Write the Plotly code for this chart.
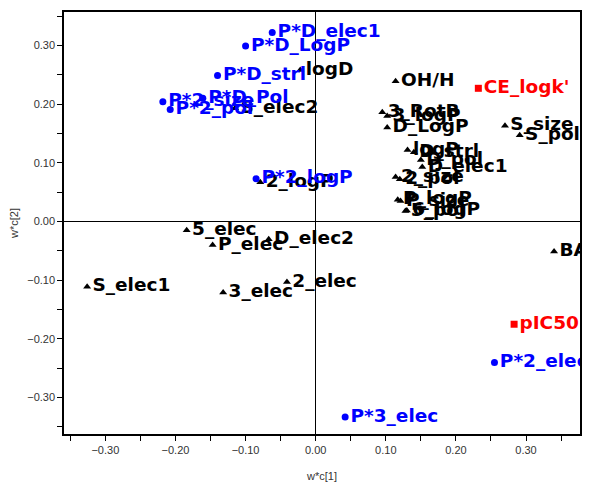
import plotly.graph_objects as go

# Blue (circles)
blue_names = ["P*D_elec1", "P*D_LogP", "P*D_strl", "P*D_Pol", "P*2_size", "P*2_pol",
              "P*2_logP", "P*2_elec", "P*3_elec"]
blue_x = [-0.062, -0.100, -0.140, -0.161, -0.218, -0.2075, -0.085, 0.255, 0.042]
blue_y = [0.322, 0.299, 0.249, 0.210, 0.204, 0.191, 0.073, -0.240, -0.333]

# Red (squares)
red_names = ["CE_logk'", "pIC50"]
red_x = [0.232, 0.283]
red_y = [0.227, -0.175]

# Black (triangles)
black_names = ["logD", "S_elec2", "OH/H", "3_RotB", "3_logP", "D_LogP", "S_size", "S_pol",
               "logP", "D_strl", "D_pol", "D_elec1", "2_size", "2_pol", "P_logP", "P_size",
               "5_pol", "6_logP", "BA", "5_elec", "P_elec", "D_elec2", "S_elec1", "3_elec",
               "2_elec", "2_logP"]
black_x = [-0.022, -0.115, 0.114, 0.095, 0.102, 0.102, 0.270, 0.291,
           0.131, 0.140, 0.150, 0.152, 0.114, 0.120, 0.117, 0.121,
           0.128, 0.130, 0.340, -0.184, -0.147, -0.067, -0.326, -0.132,
           -0.041, -0.079]
black_y = [0.258, 0.193, 0.239, 0.186, 0.180, 0.160, 0.163, 0.147,
           0.122, 0.118, 0.105, 0.093, 0.076, 0.072, 0.037, 0.035,
           0.018, 0.019, -0.051, -0.015, -0.040, -0.030, -0.111, -0.121,
           -0.103, 0.067]

x_ticks = [-0.30, -0.20, -0.10, 0.00, 0.10, 0.20, 0.30]
y_ticks = [-0.30, -0.20, -0.10, 0.00, 0.10, 0.20, 0.30]

lab_font = dict(family="DejaVu Sans", size=18.5, weight="bold")

fig = go.Figure()
fig.add_trace(go.Scatter(x=black_x, y=black_y, text=black_names, mode="markers+text",
                         textposition="middle right",
                         marker=dict(symbol="triangle-up", size=7, color="black"),
                         textfont=dict(color="black", **lab_font)))
fig.add_trace(go.Scatter(x=blue_x, y=blue_y, text=blue_names, mode="markers+text",
                         textposition="middle right",
                         marker=dict(symbol="circle", size=7, color="#0000FF"),
                         textfont=dict(color="#0000FF", **lab_font)))
fig.add_trace(go.Scatter(x=red_x, y=red_y, text=red_names, mode="markers+text",
                         textposition="middle right",
                         marker=dict(symbol="square", size=7, color="#FF0000"),
                         textfont=dict(color="#FF0000", **lab_font)))

axis_common = dict(showgrid=False, zeroline=True, zerolinecolor="black", zerolinewidth=1,
                   showline=True, linecolor="black", linewidth=1.5, mirror=True,
                   ticks="outside", ticklen=5, tickcolor="black", tickwidth=1,
                   tickfont=dict(family="Liberation Sans", size=11, color="#333333"),
                   tickformat=".2f", automargin=False,
                   minor=dict(ticks="outside", ticklen=5, dtick=0.05, tickcolor="black"))

fig.update_xaxes(range=[-0.359, 0.377], tickvals=x_ticks,
                 title=dict(text="w*c[1]", font=dict(family="Liberation Sans", size=11, color="#333333"),
                            standoff=17),
                 **axis_common)
fig.update_yaxes(range=[-0.362, 0.357], tickvals=y_ticks,
                 title=dict(text="w*c[2]", font=dict(family="Liberation Sans", size=11, color="#333333"),
                            standoff=14),
                 **axis_common)

# page body has an 8px margin, so the figure is offset by 8px
fig.update_layout(width=583, height=475, showlegend=False,
                  paper_bgcolor="white", plot_bgcolor="white",
                  margin=dict(l=56, r=11, t=4, b=49, autoexpand=False))

fig.write_html("out.html")
